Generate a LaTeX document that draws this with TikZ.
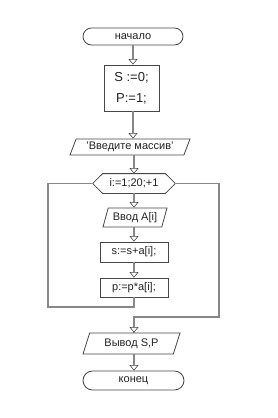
\documentclass[tikz,border=0pt]{standalone}
\usepackage{fontspec}
\setmainfont{Liberation Sans}
\usetikzlibrary{arrows.meta,shapes.geometric,shapes.misc}
\definecolor{lc}{RGB}{135,135,135}
\definecolor{sc}{RGB}{70,70,70}
\definecolor{tc}{RGB}{35,35,35}
\begin{document}
\begin{tikzpicture}[x=1pt,y=-1pt,
  conn/.style={draw=lc, line width=1.8pt},
  arr/.style={conn, -{Triangle[width=9pt,length=5.5pt,fill=white,color=sc,line width=0.6pt]}},
  shp/.style={draw=sc, line width=0.8pt, fill=white, text=tc, inner sep=0pt, align=center,
              font=\fontsize{11}{12}\selectfont},
  term/.style={shp, rounded rectangle, minimum width=100pt, minimum height=17pt},
  proc/.style={shp, rectangle},
  io/.style={shp, trapezium, trapezium stretches body},
]
\fill[white] (0,0) rectangle (277,418);
\useasboundingbox (0,0) rectangle (277,418);

\node[term] (start) at (133,36.5) {начало};
\node[proc, minimum width=55pt, minimum height=46pt, font=\fontsize{13}{21}\selectfont] (init) at (131.5,88) {S :=0;\\P:=1;};
\node[io, trapezium left angle=58, trapezium right angle=122, minimum width=120pt, minimum height=16pt] (inp) at (130,147) {'Введите массив'};
\node[shp, draw=none, fill=none, minimum width=82pt, minimum height=19pt] (hex) at (134,183.5) {i:=1;20;+1};
\draw[draw=sc, line width=0.8pt] (hex.west) -- ([xshift=10pt]hex.north west) -- ([xshift=-10pt]hex.north east) -- (hex.east) -- ([xshift=-10pt]hex.south east) -- ([xshift=10pt]hex.south west) -- cycle;
\node[io, trapezium left angle=63, trapezium right angle=117, minimum width=64pt, minimum height=19pt] (vvod) at (135,217.5) {Ввод A[i]};
\node[proc, minimum width=68pt, minimum height=20pt] (s) at (134,252) {s:=s+a[i];};
\node[proc, minimum width=68pt, minimum height=19pt] (p) at (134,287.5) {p:=p*a[i];};
\node[io, trapezium left angle=56, trapezium right angle=124, minimum width=97pt, minimum height=21pt] (out) at (131.5,343.5) {Вывод S,P};
\node[term, minimum width=101pt, minimum height=19pt] (end) at (133.5,380.5) {конец};

\coordinate (lb) at (48,307);
\coordinate (rb) at (219,317);

\draw[arr] (start.south) -- (start.south |- init.north);
\draw[arr] (start.south |- init.south) -- (start.south |- inp.north);
\draw[arr] (hex.north |- inp.south) -- (hex.north);
\draw[arr] (hex.south) -- (hex.south |- vvod.north);
\draw[arr] (s.north |- vvod.south) -- (s.north);
\draw[arr] (s.south) -- (p.north);
\draw[conn] (p.south) -- (p.south |- lb) -- (lb) -- (lb |- hex.west) -- (hex.west);
\draw[conn] (hex.east) -- (hex.east -| rb) -- (rb) -- (rb -| p.south) -- (p.south |- out.north);
\draw[arr] (p.south |- out.north) ++(0,-1) -- (p.south |- out.north);
\draw[arr] (p.south |- out.south) -- (p.south |- end.north);
\end{tikzpicture}
\end{document}
